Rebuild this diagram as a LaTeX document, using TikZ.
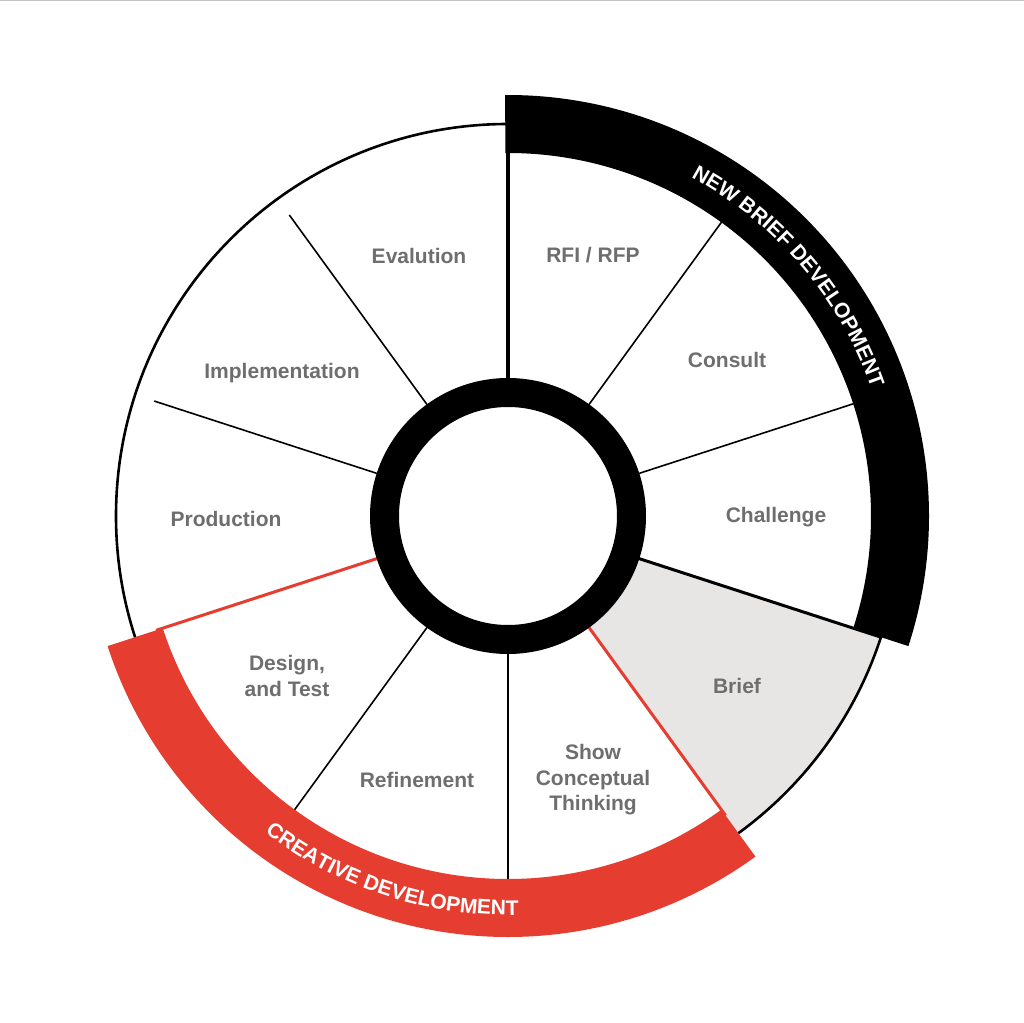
\documentclass[tikz,border=0pt]{standalone}
\usepackage{fontspec}
\setmainfont{Liberation Sans}
\usetikzlibrary{decorations.text}
\definecolor{lblgray}{HTML}{6E6E6E}
\definecolor{brandred}{HTML}{E53E30}
\definecolor{brieffill}{HTML}{E7E6E5}
\definecolor{rulegray}{HTML}{C4C4C4}
\begin{document}
\begin{tikzpicture}[x=1pt,y=1pt,
  lbl/.style={font=\bfseries\fontsize{21}{25.5}\selectfont, text=lblgray, align=center, inner sep=0pt},
  oneline/.style={text height=15pt, text depth=0pt},
  thinline/.style={line width=1.6pt, black},
  thickline/.style={line width=3pt, black},
  redline/.style={line width=3pt, brandred},
  bandtext/.style={decorate, decoration={text along path, text align=center, text color=white,
     text={|\bfseries\fontsize{21}{22}\selectfont|#1}}}
]
\useasboundingbox (-508,-506) rectangle (516,516);
\fill[white] (-508,-506) rectangle (516,516);
\draw[rulegray, line width=1.5pt] (-508,516) -- (516,516);

% shaded Brief sector
\fill[brieffill] (-18:125pt) -- (-18:392pt) arc[start angle=-18, end angle=-54, radius=392pt] -- (-54:125pt) arc[start angle=-54, end angle=-18, radius=125pt] -- cycle;

% segment dividers
\draw[line width=3.5pt] (90:120pt) -- (90:370pt);
\draw[thinline] (54:120pt) -- (54:370pt);
\draw[thinline] (18:120pt) -- (18:370pt);
\draw[thickline] (-18:120pt) -- (-18:392pt);
\draw[redline] (-54:120pt) -- (-54:370pt);
\draw[thinline] (-90:120pt) -- (-90:370pt);
\draw[thinline] (-126:120pt) -- (-126:370pt);
\draw[redline] (198:120pt) -- (198:370pt);
\draw[thinline] (162:120pt) -- (162:372pt);
\draw[thinline] (126:120pt) -- (126:372pt);

% outer wheel and inner ring
\draw[line width=2.6pt] (0,0) circle[radius=392pt];
\draw[line width=29pt] (0,0) circle[radius=123.5pt];

% bands
\fill[black] (90.4:363pt) arc[start angle=90.4, end angle=-18, radius=363pt] -- (-18:421pt) arc[start angle=-18, end angle=90.4, radius=421pt] -- cycle;
\fill[brandred] (198:363pt) arc[start angle=198, end angle=306, radius=363pt] -- (306:421pt) arc[start angle=306, end angle=198, radius=421pt] -- cycle;

\path[bandtext={NEW BRIEF DEVELOPMENT}] (75.5:385pt) arc[start angle=75.5, end angle=5.5, radius=385pt];
\path[bandtext={CREATIVE DEVELOPMENT}] (222:399pt) arc[start angle=222, end angle=282, radius=399pt];

% labels
\node[lbl, oneline] (evalution) at (-89,260) {Evalution};
\node[lbl, oneline] (rfi) at (85,261) {RFI / RFP};
\node[lbl, oneline] (consult) at (219,156) {Consult};
\node[lbl, oneline] (challenge) at (268,1) {Challenge};
\node[lbl, oneline] (brief) at (229,-170) {Brief};
\node[lbl] (show) at (85,-264) {Show\\Conceptual\\Thinking};
\node[lbl, oneline] (refinement) at (-91,-264) {Refinement};
\node[lbl] (design) at (-221,-160) {Design,\\and Test};
\node[lbl, oneline] (production) at (-282,-3) {Production};
\node[lbl, oneline] (implementation) at (-226,145) {Implementation};
\end{tikzpicture}
\end{document}
